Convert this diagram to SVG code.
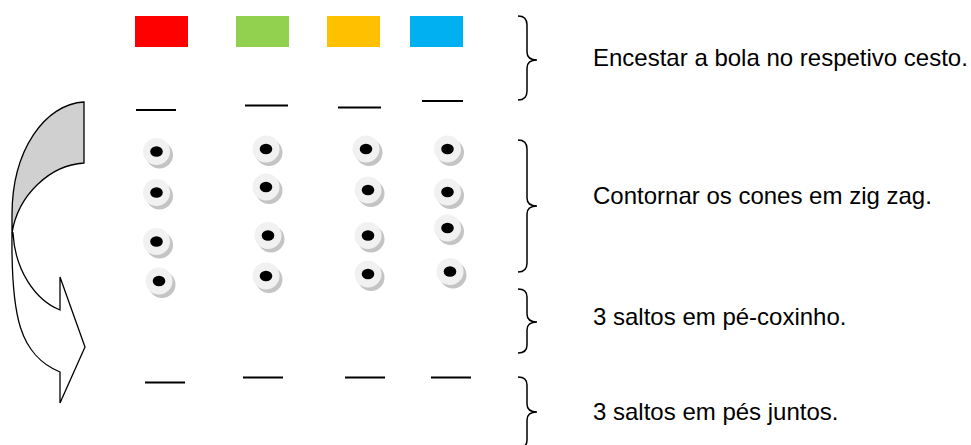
<svg xmlns="http://www.w3.org/2000/svg" width="971" height="445" viewBox="0 0 971 445">
<defs>
<style>
.bar{stroke:#000;stroke-width:2;fill:none}
.brace{stroke:#000;stroke-width:1.5;fill:none}
.lbl{font-family:"Liberation Sans",Arial,sans-serif;font-size:24px;fill:#000}
.arr{stroke:#000;stroke-width:1.3;stroke-linejoin:miter}
</style>
<g id="cone">
<circle cx="3" cy="3.5" r="13.5" fill="#c4c4c4"/>
<circle cx="0" cy="0" r="13.5" fill="#f1f1f1"/>
<ellipse cx="0" cy="0" rx="6.3" ry="5.3" fill="#000"/>
</g>
</defs>
<rect width="971" height="445" fill="#fff"/>

<g id="baskets">
<rect id="basket-red" x="135" y="16" width="53" height="31" fill="#ff0000"/>
<rect id="basket-green" x="236" y="16" width="53" height="31" fill="#92d050"/>
<rect id="basket-yellow" x="327" y="16" width="53" height="31" fill="#ffc000"/>
<rect id="basket-blue" x="410" y="16" width="53" height="31" fill="#00b0f0"/>
</g>

<g id="top-marks">
<line class="bar" x1="136" y1="110" x2="176" y2="110"/>
<line class="bar" x1="245" y1="105.5" x2="288" y2="105.5"/>
<line class="bar" x1="338" y1="107.5" x2="381" y2="107.5"/>
<line class="bar" x1="422" y1="101" x2="463" y2="101"/>
</g>

<g id="cones">
<use href="#cone" x="156.5" y="151.5"/>
<use href="#cone" x="156.5" y="192.5"/>
<use href="#cone" x="156.5" y="241.5"/>
<use href="#cone" x="159" y="281"/>
<use href="#cone" x="266" y="149"/>
<use href="#cone" x="266" y="187"/>
<use href="#cone" x="268" y="235.5"/>
<use href="#cone" x="266" y="276"/>
<use href="#cone" x="366" y="149"/>
<use href="#cone" x="368" y="190"/>
<use href="#cone" x="368" y="235.5"/>
<use href="#cone" x="368" y="274"/>
<use href="#cone" x="447.5" y="149"/>
<use href="#cone" x="447.5" y="192"/>
<use href="#cone" x="447.5" y="228"/>
<use href="#cone" x="450" y="271.5"/>
</g>

<g id="bottom-marks">
<line class="bar" x1="145" y1="382.5" x2="185" y2="382.5"/>
<line class="bar" x1="243" y1="377.5" x2="283" y2="377.5"/>
<line class="bar" x1="345" y1="377.5" x2="385" y2="377.5"/>
<line class="bar" x1="431" y1="377.5" x2="471" y2="377.5"/>
</g>

<g id="flow-arrow">
<path class="arr" fill="#d0d0d0" d="M84,102 C45,104 12,150 12,215 L12,233 C18,195 50,165 84,163 Z"/>
<path class="arr" fill="#ffffff" d="M12,233 C11,318 20,355 60,372 L60,403 L85,347 L60,277 L60,310 C35,300 15,270 13,233 Z"/>
</g>

<g id="step-1">
<path class="brace" d="M518,16 Q527,16 527,25 L527,52 Q527,60 537,60 Q527,60 527,68 L527,91 Q527,100 518,100"/>
<text class="lbl" x="593" y="66">Encestar a bola no respetivo cesto.</text>
</g>
<g id="step-2">
<path class="brace" d="M518,140 Q527,140 527,149 L527,198 Q527,206 537,206 Q527,206 527,214 L527,263 Q527,272 518,272"/>
<text class="lbl" x="593" y="204">Contornar os cones em zig zag.</text>
</g>
<g id="step-3">
<path class="brace" d="M518,289 Q527,289 527,297 L527,314 Q527,322 537,322 Q527,322 527,330 L527,345 Q527,353 518,353"/>
<text class="lbl" x="593" y="325">3 saltos em pé-coxinho.</text>
</g>
<g id="step-4">
<path class="brace" d="M518,377 Q527,377 527,385 L527,404 Q527,412 537,412 Q527,412 527,420 L527,440 Q527,448 518,448"/>
<text class="lbl" x="593" y="420">3 saltos em pés juntos.</text>
</g>
</svg>
